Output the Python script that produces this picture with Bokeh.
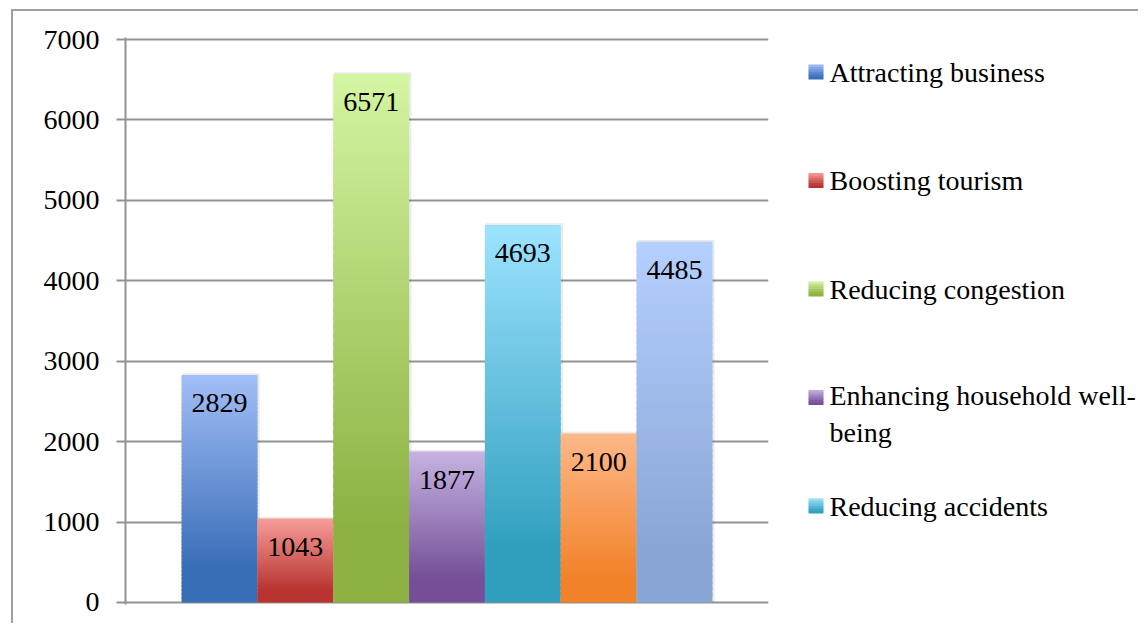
from bokeh.plotting import figure
from bokeh.models import Range1d, FixedTicker, ColumnDataSource
from bokeh.layouts import row
from bokeh.embed import file_html
from bokeh.resources import INLINE
from bokeh.core.properties import value

# ---- data ----
values = [2829, 1043, 6571, 1877, 4693, 2100, 4485]
value_labels = ["2829", "1043", "6571", "1877", "4693", "2100", "4485"]
legend_labels = [
    "Attracting business",
    "Boosting tourism",
    "Reducing congestion",
    "Enhancing household well-\nbeing",
    "Reducing accidents",
]
y_ticks = [0, 1000, 2000, 3000, 4000, 5000, 6000, 7000]
top_colors = ["#A3BEF7", "#F79D99", "#D4F5A2", "#C6B3E2", "#9DE3FF", "#FDB88A", "#B5D0FF"]
bottom_colors = ["#386DB7", "#B93431", "#8DB142", "#744E97", "#31A0BF", "#F2822A", "#8AA6D6"]

FONT = "Liberation Serif"
FSIZE = "28px"
GRID = "#939393"


def hex2rgb(h):
    h = h.lstrip("#")
    return tuple(int(h[i:i + 2], 16) for i in (0, 2, 4))


def grad(c_top, c_bot, s):
    """s: position measured from the top (0) to the bottom (1)."""
    u = min(s / 0.85, 1.0)
    a, b = hex2rgb(c_top), hex2rgb(c_bot)
    r = [round(a[k] + (b[k] - a[k]) * u) for k in range(3)]
    return "#%02x%02x%02x" % tuple(r)


# ---- main chart ----
W1, H = 767, 612
MB_TOP, MB_BOT = 26, 19
FH = H - MB_TOP - MB_BOT  # frame height
p = figure(width=W1, height=H,
           x_range=Range1d(-1.24, 7.24), y_range=Range1d(-25, 7025),
           output_backend="svg", toolbar_location=None,
           x_axis_location=None,
           min_border_left=112, min_border_top=MB_TOP, min_border_bottom=MB_BOT,
           min_border_right=12)
p.outline_line_color = None
p.xgrid.visible = False
p.ygrid.ticker = FixedTicker(ticks=y_ticks)
p.ygrid.grid_line_color = GRID
p.ygrid.grid_line_width = 2
p.yaxis.ticker = FixedTicker(ticks=y_ticks)
p.yaxis.axis_line_color = GRID
p.yaxis.axis_line_width = 2
p.yaxis.major_tick_line_color = GRID
p.yaxis.major_tick_line_width = 2
p.yaxis.major_tick_out = 9
p.yaxis.major_tick_in = 0
p.yaxis.minor_tick_line_color = None
p.yaxis.major_label_text_font = FONT
p.yaxis.major_label_text_font_size = FSIZE
p.yaxis.major_label_text_color = "#000000"
p.yaxis.major_label_standoff = 17

N = 60
xs = list(range(len(values)))

# soft shadow
p.quad(left=[x - 0.49 for x in xs], right=[x + 0.53 for x in xs],
       bottom=[0] * len(values), top=[v + 22 for v in values],
       fill_color="#000000", fill_alpha=0.08, line_color=None)

for i, v in enumerate(values):
    bots, tops, cols = [], [], []
    for j in range(N):
        b = v * j / N
        t = v * (j + 1) / N
        if j < N - 1:
            t += v * 0.6 / N
        bots.append(b)
        tops.append(t)
        s = 1 - (j + 0.5) / N
        cols.append(grad(top_colors[i], bottom_colors[i], s))
    src = ColumnDataSource(dict(left=[i - 0.5] * N, right=[i + 0.5] * N,
                                bottom=bots, top=tops, color=cols))
    p.quad(left="left", right="right", bottom="bottom", top="top",
           fill_color="color", line_color=None, source=src)

p.text(x=xs, y=values, text=value_labels, text_align="center",
       text_baseline="middle", y_offset=28,
       text_font=value(FONT), text_font_size=FSIZE, text_color="#000000")

# ---- legend panel (frame aligned with the main frame) ----
W2 = 358
q = figure(width=W2, height=H, x_range=Range1d(0, W2), y_range=Range1d(0, FH),
           output_backend="svg", toolbar_location=None,
           x_axis_location=None, y_axis_location=None,
           min_border_left=0, min_border_right=0,
           min_border_top=MB_TOP, min_border_bottom=MB_BOT)
q.outline_line_color = None
q.grid.visible = False

SQ = 15
first_c = 34.5   # first item centre, px below the frame top
step = 108.5
line_h = 33.6
M = 6
tx, ty, tt = [], [], []
for k, lab in enumerate(legend_labels):
    cy = FH - (first_c + step * k)
    sl, sr, sb, st, sc = [], [], [], [], []
    for j in range(M):
        sl.append(28)
        sr.append(28 + SQ)
        b = cy - SQ / 2 + SQ * j / M
        sb.append(b)
        st.append(b + SQ / M + (0.4 if j < M - 1 else 0))
        sc.append(grad(top_colors[k], bottom_colors[k], 1 - (j + 0.5) / M))
    q.quad(left=sl, right=sr, bottom=sb, top=st, fill_color=sc, line_color=None)
    nlines = lab.count("\n") + 1
    tx.append(49)
    ty.append(cy - (nlines - 1) * line_h / 2)
    tt.append(lab)

q.text(x=tx, y=ty, text=tt, text_align="left", text_baseline="middle",
       text_font=value(FONT), text_font_size=FSIZE, text_color="#000000",
       text_line_height=1.2)

layout = row(p, q, styles={"border-top": "2px solid #A0A0A0",
                           "border-left": "2px solid #A0A0A0",
                           "margin-left": "11px", "margin-top": "9px"})

open("out.html", "w").write(file_html(layout, INLINE))
